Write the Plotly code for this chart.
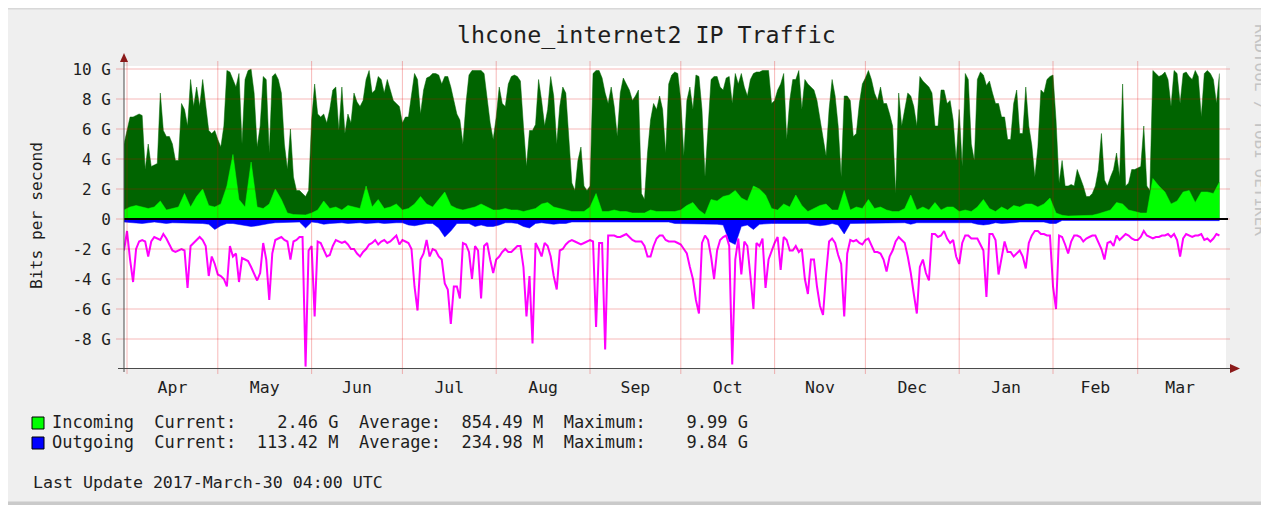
import pandas as pd
import plotly.graph_objects as go

# ---------------- data (values in Gbit/s) ----------------
START = "2016-03-31"

# daily maxima (one value per day from START)
incoming_max = [
    5.0, 6.0, 6.8, 6.8, 6.9, 7.0, 6.9, 3.3, 5.0, 3.5,
    3.6, 3.7, 8.4, 5.9, 5.5, 5.5, 5.0, 3.9, 3.9, 7.7,
    7.3, 6.2, 9.3, 7.5, 8.8, 7.5, 9.3, 7.5, 5.9, 5.7,
    5.9, 5.3, 4.8, 6.2, 9.9, 9.8, 9.3, 8.8, 9.7, 5.0,
    9.3, 9.9, 9.99, 8.4, 4.8, 6.2, 9.5, 9.3, 4.4, 9.5,
    9.7, 9.3, 8.4, 5.0, 3.3, 6.0, 2.8, 1.9, 1.9, 1.7,
    1.5, 1.9, 6.6, 9.0, 7.0, 6.8, 7.0, 6.4, 7.3, 8.6,
    8.8, 5.9, 8.8, 5.7, 7.0, 6.4, 8.4, 7.8, 7.5, 7.9,
    9.3, 9.9, 8.4, 8.6, 9.5, 9.3, 8.4, 9.3, 8.6, 7.9,
    7.7, 7.5, 6.4, 6.8, 6.8, 8.4, 9.7, 9.3, 7.0, 8.6,
    9.4, 9.5, 9.7, 9.7, 9.6, 9.0, 9.5, 9.5, 8.8, 7.9,
    7.0, 6.6, 5.0, 7.7, 9.6, 9.9, 9.9, 9.9, 9.9, 9.7,
    7.9, 6.4, 5.3, 6.8, 8.8, 7.7, 7.5, 9.0, 9.5, 9.6,
    9.5, 9.2, 6.2, 3.5, 5.9, 5.9, 6.3, 9.3, 7.9, 6.2,
    7.3, 9.5, 8.2, 5.0, 7.5, 8.8, 8.4, 5.7, 2.4, 1.9,
    3.9, 4.8, 2.2, 1.9, 2.2, 9.7, 9.9, 9.9, 9.4, 8.4,
    7.7, 8.8, 7.5, 5.5, 8.4, 9.4, 9.0, 8.6, 7.9, 8.2,
    8.6, 1.7, 1.3, 4.4, 6.6, 7.7, 7.3, 8.2, 7.3, 4.4,
    9.0, 9.6, 9.8, 9.7, 7.9, 4.2, 7.9, 8.8, 7.3, 9.6,
    9.5, 7.3, 2.8, 6.2, 9.3, 9.5, 9.5, 8.8, 8.6, 9.4,
    9.5, 7.7, 9.7, 9.0, 9.7, 8.8, 8.2, 9.3, 9.7, 9.8,
    9.8, 9.9, 9.9, 9.9, 7.7, 7.9, 8.6, 9.0, 9.7, 5.3,
    7.9, 9.3, 9.3, 9.9, 7.3, 9.3, 9.0, 8.8, 8.6, 7.9,
    6.6, 5.3, 4.2, 7.3, 9.3, 8.2, 6.2, 2.8, 8.2, 8.2,
    7.9, 5.5, 5.7, 7.7, 9.0, 9.4, 9.9, 9.3, 8.4, 7.9,
    8.8, 7.7, 7.7, 7.0, 6.2, 1.7, 8.4, 6.2, 7.3, 8.4,
    8.2, 7.5, 6.2, 9.5, 9.2, 9.0, 8.8, 8.4, 6.2, 6.2,
    8.6, 8.6, 7.7, 7.9, 6.6, 3.9, 7.3, 3.5, 9.7, 9.3,
    5.0, 3.9, 9.3, 9.8, 9.6, 8.9, 9.2, 8.4, 7.7, 7.7,
    6.8, 6.8, 5.3, 5.3, 7.7, 8.6, 5.7, 5.7, 8.8, 6.2,
    4.9, 2.8, 4.8, 8.6, 8.4, 9.3, 9.5, 9.6, 6.6, 2.4,
    3.9, 2.2, 2.2, 2.3, 2.2, 3.3, 2.8, 2.2, 1.5, 1.5,
    1.7, 2.2, 3.3, 5.7, 2.6, 2.2, 2.8, 3.3, 4.4, 2.8,
    9.0, 2.2, 2.4, 3.3, 3.3, 3.4, 3.5, 6.2, 2.2, 1.9,
    9.9, 9.7, 9.5, 9.6, 9.8, 9.3, 7.5, 9.9, 9.7, 7.7,
    9.7, 9.8, 9.5, 9.3, 9.9, 9.5, 6.8, 9.7, 9.9, 9.7,
    9.3, 7.7, 9.7,
]

outgoing_max = [
    -2.1, -0.8, -2.7, -4.2, -2.0, -1.5, -1.4, -1.5, -2.5, -1.5,
    -1.2, -1.3, -1.4, -1.0, -1.3, -1.7, -2.1, -2.2, -2.1, -2.0,
    -2.1, -4.6, -1.8, -1.6, -1.4, -1.2, -1.4, -1.8, -3.8, -2.5,
    -3.0, -3.7, -3.8, -4.0, -4.5, -1.8, -2.5, -2.3, -4.2, -2.6,
    -2.7, -2.8, -3.2, -3.6, -4.1, -3.6, -1.6, -2.7, -5.4, -2.3,
    -1.4, -1.3, -1.2, -1.4, -1.5, -2.7, -1.5, -1.4, -1.2, -1.2,
    -9.84, -2.1, -1.8, -6.5, -1.5, -1.6, -2.0, -2.5, -2.4, -1.8,
    -1.4, -1.5, -1.6, -1.5, -1.7, -2.0, -2.0, -2.3, -2.5, -2.2,
    -2.0, -1.7, -1.6, -1.4, -1.7, -1.5, -1.4, -1.6, -1.5, -1.3,
    -1.1, -1.7, -1.4, -1.5, -1.6, -2.0, -4.5, -6.1, -2.7, -2.3,
    -1.4, -2.5, -2.0, -2.1, -2.5, -2.7, -4.3, -4.7, -7.0, -4.5,
    -4.5, -5.3, -1.6, -1.7, -2.2, -4.0, -1.8, -2.1, -5.3, -1.8,
    -1.6, -2.7, -3.6, -2.7, -2.5, -2.2, -2.0, -2.2, -2.2, -2.0,
    -1.8, -1.8, -3.2, -6.5, -3.8, -8.3, -1.6, -2.0, -2.5, -1.6,
    -1.8, -2.5, -3.8, -4.7, -2.1, -2.0, -1.7, -1.5, -1.4, -1.5,
    -1.6, -1.7, -1.6, -1.5, -1.4, -1.5, -7.2, -1.6, -1.6, -8.7,
    -1.1, -1.1, -1.1, -1.2, -1.2, -1.1, -1.0, -1.2, -1.4, -1.5,
    -1.5, -1.5, -1.8, -2.5, -2.5, -1.8, -1.3, -1.1, -1.1, -1.4,
    -1.5, -1.5, -1.5, -1.6, -1.7, -2.0, -2.3, -3.2, -4.0, -5.4,
    -6.3, -1.6, -1.1, -1.4, -2.5, -4.0, -2.1, -1.4, -1.2, -1.1,
    -1.8, -9.7, -2.7, -1.3, -3.7, -1.5, -1.8, -3.8, -6.0, -1.6,
    -1.8, -1.3, -4.6, -2.7, -2.1, -1.6, -1.2, -3.4, -1.2, -1.4,
    -2.1, -2.1, -1.8, -2.2, -2.0, -4.0, -5.0, -2.7, -2.7, -4.5,
    -5.8, -6.4, -3.7, -1.5, -1.3, -1.6, -2.4, -3.0, -6.5, -2.3,
    -1.4, -1.5, -1.4, -1.6, -1.7, -1.4, -1.3, -1.8, -2.2, -2.2,
    -2.3, -2.7, -3.5, -2.5, -2.1, -1.5, -1.2, -1.4, -1.6, -2.5,
    -3.6, -5.0, -6.3, -3.2, -2.7, -3.6, -4.1, -1.0, -1.0, -1.2,
    -1.1, -0.8, -1.3, -1.6, -1.4, -2.5, -3.0, -1.6, -1.1, -1.1,
    -1.3, -1.3, -1.3, -1.7, -2.1, -5.2, -1.0, -1.0, -1.4, -3.7,
    -2.5, -1.5, -2.2, -2.2, -2.5, -2.3, -2.1, -2.5, -3.3, -1.6,
    -1.1, -0.8, -0.8, -1.0, -1.0, -1.1, -1.1, -4.5, -6.0, -1.1,
    -1.2, -1.7, -2.3, -1.5, -1.1, -1.1, -1.2, -1.5, -1.3, -1.2,
    -1.1, -1.1, -1.5, -2.0, -2.7, -1.6, -1.5, -1.8, -1.1, -1.4,
    -1.2, -1.0, -1.1, -1.3, -1.4, -1.4, -1.2, -0.8, -1.1, -1.2,
    -1.3, -1.2, -1.2, -1.1, -1.1, -1.0, -1.2, -1.0, -1.4, -2.5,
    -1.3, -1.0, -1.1, -1.2, -1.1, -1.1, -1.0, -1.4, -1.3, -1.5,
    -1.3, -1.0, -1.1,
]

# averages (one value every 2 days from START)
incoming_avg = [
    0.6, 0.8, 0.9, 0.8, 0.7, 0.8, 1.2, 0.6, 0.7, 0.8, 1.7, 0.8, 1.5, 2.0, 0.9, 0.8,
    1.0, 2.2, 4.3, 1.3, 0.8, 3.8, 0.8, 0.7, 1.0, 2.0, 1.3, 0.4, 0.3, 0.27, 0.27, 0.4,
    0.6, 1.2, 0.7, 0.8, 0.6, 0.9, 0.8, 0.7, 2.2, 0.8, 1.3, 0.7, 0.8, 1.0,
    0.6, 0.7, 1.0, 1.5, 1.0, 0.8, 1.3, 1.8, 0.9, 0.7, 0.6, 0.7, 0.8, 1.0, 0.8,
    0.6, 0.6, 0.7, 0.6, 0.6, 0.5, 0.6, 0.7, 1.0, 1.1, 0.8, 0.7, 0.6, 0.5, 0.5,
    0.5, 0.8, 1.7, 0.5, 0.5, 0.6, 0.5, 0.5, 0.4, 0.4, 0.4, 0.6, 0.5, 0.5, 0.5,
    0.5, 0.6, 0.9, 1.1, 0.6, 0.3, 1.3, 1.2, 1.5, 1.6, 1.9, 1.4, 1.2, 2.2, 2.0, 1.6,
    0.7, 0.6, 1.0, 0.8, 1.6, 0.9, 0.5, 0.7, 0.9, 1.0, 0.6, 0.6, 1.9, 0.6, 0.8, 0.7,
    1.3, 0.7, 0.8, 0.6, 0.5, 0.5, 0.7, 1.6, 0.6, 0.8, 0.6, 1.1, 0.6, 0.8,
    0.8, 0.5, 0.6, 0.5, 0.8, 1.3, 0.7, 0.5, 0.8, 0.6, 0.9, 0.8, 1.0, 1.0, 0.8,
    1.0, 1.4, 0.4, 0.25, 0.2, 0.2, 0.2, 0.2, 0.25, 0.35, 0.5, 0.6, 1.1, 1.0, 0.6,
    0.5, 0.4, 0.4, 2.7, 2.2, 1.8, 1.0, 1.2, 1.8, 1.9, 1.1, 1.8, 1.8, 1.7, 2.46,
]

outgoing_avg = [
    -0.2, -0.25, -0.25, -0.3, -0.25, -0.2, -0.25, -0.3, -0.25, -0.25, -0.3, -0.25,
    -0.25, -0.3, -0.35, -0.7, -0.45, -0.3, -0.3, -0.35, -0.4, -0.5, -0.45, -0.35,
    -0.3, -0.25, -0.25, -0.2, -0.2, -0.2, -0.6, -0.2, -0.25, -0.35, -0.3, -0.25,
    -0.25, -0.3, -0.25, -0.25, -0.3, -0.25, -0.25, -0.3, -0.25, -0.25,
    -0.25, -0.4, -0.45, -0.35, -0.3, -0.3, -0.6, -1.2, -0.8, -0.3, -0.3, -0.3,
    -0.5, -0.4, -0.5, -0.5, -0.4, -0.25, -0.25, -0.3, -0.5, -0.6, -0.3, -0.25,
    -0.3, -0.35, -0.3, -0.3, -0.2, -0.2, -0.2, -0.2, -0.25, -0.2, -0.2, -0.2,
    -0.2, -0.2, -0.2, -0.2, -0.2, -0.2, -0.2, -0.2, -0.2,
    -0.3, -0.3, -0.3, -0.35, -0.3, -0.3, -0.3, -0.35, -0.4, -1.5, -1.7, -0.5,
    -0.4, -0.7, -0.35, -0.3, -0.3, -0.3, -0.3, -0.3, -0.3, -0.3, -0.3, -0.4,
    -0.45, -0.4, -0.3, -0.4, -1.0, -0.3, -0.3, -0.25, -0.25, -0.25, -0.25, -0.25,
    -0.25, -0.25, -0.25, -0.35, -0.25, -0.25, -0.25, -0.25, -0.25, -0.25,
    -0.2, -0.2, -0.2, -0.25, -0.35, -0.4, -0.35, -0.25, -0.3, -0.3, -0.25, -0.2,
    -0.2, -0.2, -0.2, -0.2, -0.3, -0.3, -0.1, -0.1, -0.1, -0.1, -0.1, -0.1,
    -0.1, -0.1, -0.1, -0.1, -0.1, -0.1, -0.1, -0.1, -0.1, -0.12, -0.12, -0.12,
    -0.12, -0.12, -0.12, -0.12, -0.12, -0.12, -0.12, -0.12, -0.11,
]

y_tick_vals = [-8, -6, -4, -2, 0, 2, 4, 6, 8, 10]
y_tick_text = ["-8 G", "-6 G", "-4 G", "-2 G", "0", "2 G", "4 G", "6 G", "8 G", "10 G"]

legend_names = ["Incoming", "Outgoing"]
legend_colors = ["#00FF00", "#0000FF"]
legend_current = ["2.46 G", "113.42 M"]
legend_average = ["854.49 M", "234.98 M"]
legend_maximum = ["9.99 G", "9.84 G"]

title_text = "lhcone_internet2 IP Traffic"
y_title = "Bits per second"
last_update = "Last Update 2017-March-30 04:00 UTC"
watermark = "RRDTOOL / TOBI OETIKER"
x_range = ["2016-03-31 00:00", "2017-03-30 04:00"]

# ---------------- layout helpers (page pixel coordinates) ----------------
PAGE_W, PAGE_H = 1269, 505
OFF = 8                      # default body margin of the html page
W, H = PAGE_W - OFF, PAGE_H - OFF
PL, PR, PT, PB = 124, 1226, 66, 369
FONT = "DejaVu Sans Mono"
TXT = "#1e1e1e"
GRID = "rgba(225,0,0,0.28)"


def px(X):
    return (X - PL) / (PR - PL)


def py(Y):
    return (PB - Y) / (PB - PT)


def dates(vals, step):
    return pd.date_range(START, periods=len(vals), freq=step)


def nb(s):
    return s.replace(" ", "\u00a0")


fig = go.Figure()

for vals, step, col in [(incoming_max, "1D", "#006400"),
                        (incoming_avg, "2D", "#00FF00"),
                        (outgoing_avg, "2D", "#0000FF")]:
    fig.add_trace(go.Scatter(
        x=dates(vals, step), y=vals, mode="lines", fill="tozeroy",
        line=dict(color=col, width=0.5), fillcolor=col,
        hoverinfo="skip", showlegend=False))

fig.add_trace(go.Scatter(
    x=dates(outgoing_max, "1D"), y=outgoing_max, mode="lines",
    line=dict(color="#FF00FF", width=2), hoverinfo="skip", showlegend=False))

shapes = []
for v in y_tick_vals:
    shapes.append(dict(type="line", xref="paper", yref="y", x0=px(116), x1=px(1230),
                       y0=v, y1=v, line=dict(color=GRID, width=1), layer="above"))
for d in pd.date_range("2016-04-01", "2017-03-01", freq="MS"):
    shapes.append(dict(type="line", xref="x", yref="paper", x0=d, x1=d,
                       y0=py(374), y1=py(61), line=dict(color=GRID, width=1), layer="above"))
shapes.append(dict(type="line", xref="paper", yref="y", x0=0, x1=px(1228), y0=0, y1=0,
                   line=dict(color="#000000", width=2), layer="above"))
AX = "#4a4a4a"
ARROW = "#8b1a1a"
shapes.append(dict(type="line", xref="paper", yref="paper", x0=0, x1=0, y0=py(372), y1=py(60),
                   line=dict(color=AX, width=1), layer="above"))
shapes.append(dict(type="line", xref="paper", yref="paper", x0=px(118), x1=px(1232),
                   y0=py(368.5), y1=py(368.5), line=dict(color=AX, width=1), layer="above"))
shapes.append(dict(type="path", xref="paper", yref="paper",
                   path=f"M {px(120)} {py(62)} L {px(128)} {py(62)} L {px(124)} {py(53)} Z",
                   fillcolor=ARROW, line=dict(width=0), layer="above"))
shapes.append(dict(type="path", xref="paper", yref="paper",
                   path=f"M {px(1230)} {py(364)} L {px(1230)} {py(373)} L {px(1240)} {py(368.5)} Z",
                   fillcolor=ARROW, line=dict(width=0), layer="above"))
# window frame bits
shapes.append(dict(type="rect", xref="paper", yref="paper", x0=px(0), x1=px(PAGE_W + 5),
                   y0=py(7), y1=py(9.5), fillcolor="#d8d8d8", line=dict(width=0), layer="below"))
shapes.append(dict(type="rect", xref="paper", yref="paper", x0=px(0), x1=px(PAGE_W + 5),
                   y0=py(501.5), y1=py(506), fillcolor="#cacaca", line=dict(width=0), layer="below"))
for i, col in enumerate(legend_colors):
    top = 417 + 20 * i
    shapes.append(dict(type="rect", xref="paper", yref="paper", x0=px(32), x1=px(44),
                       y0=py(top + 12), y1=py(top), fillcolor=col,
                       line=dict(color="#000000", width=1), layer="above"))

annotations = [
    dict(text=title_text, x=px(646.5), y=py(35), xanchor="center", yanchor="middle",
         font=dict(family=FONT, size=23.3, color=TXT)),
    dict(text=nb(y_title), x=px(36), y=py(216), xanchor="center", yanchor="middle",
         textangle=-90, font=dict(family=FONT, size=16.3, color=TXT)),
    dict(text=nb(watermark), x=px(1261), y=py(130), xanchor="center", yanchor="middle",
         textangle=90, font=dict(family=FONT, size=16, color="#c4c4c4")),
]
for i, name in enumerate(legend_names):
    line = (f"{name}  Current:{legend_current[i]:>10}  Average:{legend_average[i]:>10}"
            f"  Maximum:{legend_maximum[i]:>10}")
    annotations.append(dict(text=nb(line), x=px(50), y=py(422 + 20 * i), xanchor="left",
                            yanchor="middle", font=dict(family=FONT, size=17, color=TXT)))
annotations.append(dict(text=nb(last_update), x=px(31), y=py(482), xanchor="left",
                        yanchor="middle", font=dict(family=FONT, size=16.6, color=TXT)))
for a in annotations:
    a.update(xref="paper", yref="paper", showarrow=False)

fig.update_layout(
    width=W, height=H,
    margin=dict(l=PL - OFF, r=PAGE_W - PR, t=PT - OFF, b=PAGE_H - PB, pad=0),
    paper_bgcolor="#efefef", plot_bgcolor="#ffffff",
    shapes=shapes, annotations=annotations, showlegend=False,
    xaxis=dict(type="date", range=x_range, showgrid=False, zeroline=False, showline=False,
               tick0="2016-04-01", dtick="M1", tickformat="%b", ticklabelmode="period",
               ticks="", ticklabelstandoff=6,
               tickfont=dict(family=FONT, size=16.5, color=TXT), fixedrange=True),
    yaxis=dict(range=[-10, 10.2], showgrid=False, zeroline=False, showline=False,
               tickmode="array", tickvals=y_tick_vals, ticktext=[nb(t) for t in y_tick_text],
               ticks="", ticklabelstandoff=12,
               tickfont=dict(family=FONT, size=16, color=TXT), fixedrange=True),
)

fig.write_html("out.html")
